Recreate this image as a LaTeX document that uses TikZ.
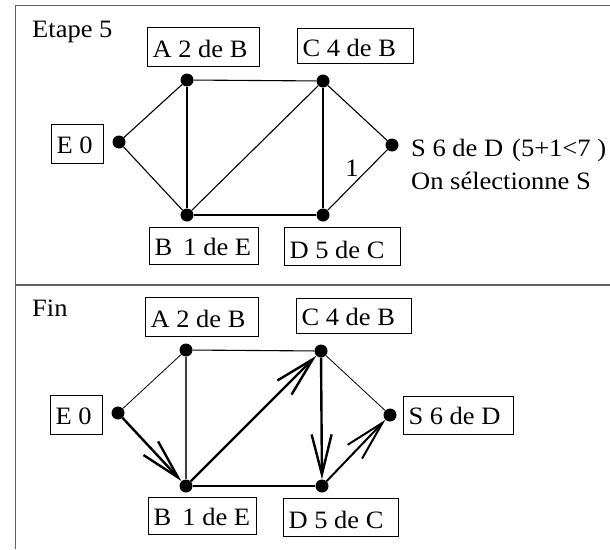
\documentclass[tikz,border=0pt]{standalone}
\usepackage{fontspec}
\setmainfont{Liberation Serif}[FakeStretch=1.06]
\usetikzlibrary{arrows.meta}
\newcommand\lbox[2]{\makebox[#1][l]{#2}}
\begin{document}
\begin{tikzpicture}[x=1pt,y=-1pt,
  every node/.style={font=\fontsize{25}{30}\selectfont},
  frame/.style={draw=black!62, line width=1.6pt},
  dot/.style={circle, fill=black, inner sep=0pt, minimum size=13pt},
  edge/.style={line width=1.1pt},
  thinedge/.style={line width=0.8pt},
  route/.style={line width=2.4pt, -{Straight Barb[length=40pt,width=20pt]}},
  box/.style n args={2}{draw, line width=1pt, anchor=north west, inner xsep=5pt, inner ysep=0pt,
    text height=#1, text depth=#2},
  txt/.style={inner sep=0pt, anchor=base west}]
\useasboundingbox (0,0) rectangle (610,549);
% frame
\coordinate (tr) at (610,5.5);
\coordinate (tl) at (15.5,5.5);
\coordinate (bl) at (15.5,549);
\coordinate (ml) at (15.5,285);
\coordinate (mr) at (610,285);
\draw[frame] (tr) -- (tl) -- (bl);
\draw[frame] (ml) -- (mr);

% ---------- Etape 5 ----------
\node[txt] (t5) at (32,37) {Etape 5};
\node[box={30pt}{9pt}] (Ab) at (147,27) {\lbox{102pt}{A 2 de B}};
\node[box={28pt}{7pt}] (Cb) at (297,28) {\lbox{106pt}{C 4 de B}};
\node[box={29pt}{10pt}] (Eb) at (51,124) {\lbox{42pt}{E 0}};
\node[box={28pt}{9pt}] (Bb) at (149,227) {\lbox{99pt}{B\hspace{0.45em}1 de E}};
\node[box={31pt}{7pt}] (Db) at (284,227) {\lbox{106pt}{D 5 de C}};
\node[txt] (sel1) at (411,156) {S 6 de D\hspace{9pt}(5+1<7 )};
\node[txt] (sel2) at (411,189) {On sélectionne S};

\node[dot] (E) at (119,142) {};
\node[dot] (A) at (187,80) {};
\node[dot] (C) at (323,81) {};
\node[dot] (S) at (392,145) {};
\node[dot] (B) at (187,215) {};
\node[dot] (D) at (323,215) {};
\draw[edge] (E) -- (A);
\draw[edge] (E) -- (B);
\draw[edge] (A) -- (C);
\draw[edge] (A) -- (B);
\draw[edge] (B) -- (C);
\draw[edge] (B) -- (D);
\draw[edge] (C) -- (D);
\draw[edge] (C) -- (S);
\draw[edge] (D) -- (S);
\node[inner sep=0pt] (w1) at (352,168) {1};

% ---------- Fin ----------
\node[txt] (fin) at (32,316) {Fin};
\node[box={30pt}{9pt}] (fAb) at (145,297) {\lbox{103pt}{A 2 de B}};
\node[box={27pt}{8pt}] (fCb) at (296,298) {\lbox{105pt}{C 4 de B}};
\node[box={29pt}{10pt}] (fEb) at (50,395) {\lbox{42pt}{E 0}};
\node[box={28pt}{10pt}] (fSb) at (403,396) {\lbox{100pt}{S 6 de D}};
\node[box={28pt}{9pt}] (fBb) at (148,497) {\lbox{98pt}{B\hspace{0.45em}1 de E}};
\node[box={30pt}{8pt}] (fDb) at (283,498) {\lbox{105pt}{D 5 de C}};

\node[dot] (fE) at (118,413) {};
\node[dot] (fA) at (186,350) {};
\node[dot] (fC) at (321,351) {};
\node[dot] (fS) at (390,415) {};
\node[dot] (fB) at (186,486) {};
\node[dot] (fD) at (322,486) {};
\draw[thinedge] (fE) -- (fA);
\draw[edge] (fA) -- (fC);
\draw[edge, draw=black!75] (fA) -- (fB);
\draw[edge] (fB) -- (fD);
\draw[thinedge] (fC) -- (fS);
\draw[route] (fE) -- (fB);
\draw[route] (fB) -- (fC);
\draw[route] (fC) -- (fD);
\draw[route, line width=2pt] (fD) -- (fS);
\end{tikzpicture}
\end{document}
